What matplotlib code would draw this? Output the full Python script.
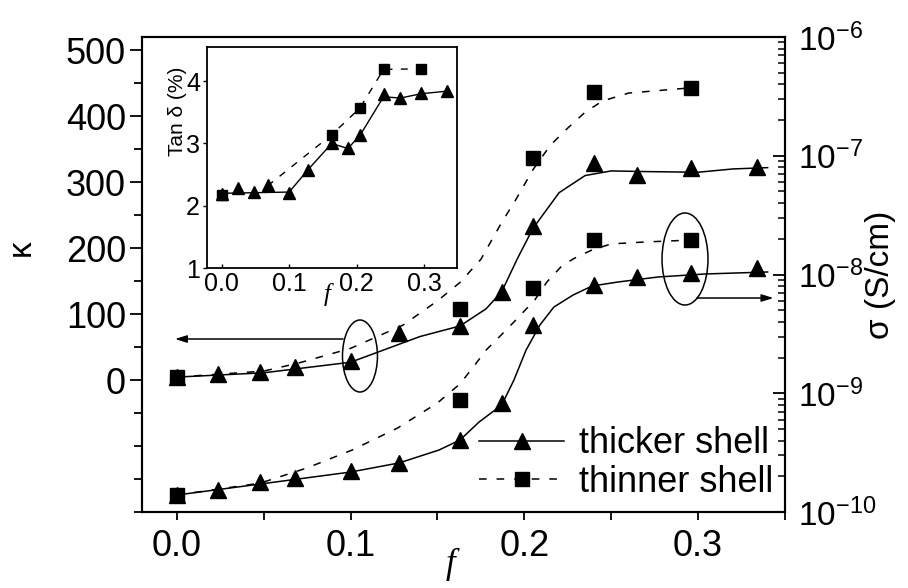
import matplotlib
matplotlib.use('Agg')
import matplotlib.pyplot as plt
from matplotlib.lines import Line2D
from matplotlib.patches import Ellipse
from matplotlib.ticker import FixedLocator, MultipleLocator, LogLocator, NullFormatter, LogFormatterMathtext

plt.rcParams['font.family'] = ['Liberation Sans', 'DejaVu Sans']
plt.rcParams['mathtext.fontset'] = 'custom'
plt.rcParams['mathtext.rm'] = 'Liberation Sans'
plt.rcParams['mathtext.it'] = 'Liberation Serif:italic'

# ---------------- data ----------------
f_thick = [0.0, 0.024, 0.048, 0.068, 0.100, 0.128, 0.163, 0.187, 0.205, 0.240, 0.265, 0.296, 0.334]
kappa_thick = [4.5, 9, 12, 20, 29, 72, 82, 134, 233, 329, 311, 322, 323]
sigma_thick = [1.39e-10, 1.53e-10, 1.79e-10, 1.93e-10, 2.21e-10, 2.59e-10, 4.04e-10,
               8.27e-10, 3.76e-9, 8.16e-9, 9.53e-9, 1.03e-8, 1.13e-8]
tan_thick = [2.19, 2.29, 2.22, 2.33, 2.20, 2.58, 3.00, 2.92, 3.13, 3.79, 3.73, 3.81, 3.85]

f_thin = [0.0, 0.163, 0.205, 0.240, 0.296]
kappa_thin = [4, 107, 337, 437, 443]
sigma_thin = [1.39e-10, 8.77e-10, 7.69e-9, 1.95e-8, 1.95e-8]
tan_thin = [2.18, 3.14, 3.57, 4.19, 4.20]

# fitted curves
fit_kt_f = [0.0, 0.05, 0.10, 0.14, 0.163, 0.178, 0.187, 0.196, 0.205, 0.22, 0.235, 0.25, 0.27, 0.30, 0.32, 0.34]
fit_kt_v = [4.5, 11, 27, 66, 82, 108, 134, 184, 230, 284, 310, 317, 316, 315, 320, 322]

fit_kn_f = [0.0, 0.05, 0.07, 0.10, 0.13, 0.15, 0.163, 0.175, 0.187, 0.195, 0.205, 0.215, 0.225, 0.235, 0.245, 0.26, 0.296]
fit_kn_v = [4.5, 13.6, 25.7, 48, 83, 120, 148, 183, 239, 273, 319, 356, 382, 406, 423, 435, 443]

fit_st_f = [0.0, 0.048, 0.10, 0.128, 0.151, 0.163, 0.174, 0.187, 0.194, 0.201, 0.209, 0.217, 0.228,
            0.239, 0.254, 0.277, 0.304, 0.34]
fit_st_v = [1.39e-10, 1.72e-10, 2.17e-10, 2.59e-10, 3.33e-10, 4.04e-10, 5.73e-10, 7.96e-10, 1.29e-9,
            2.31e-9, 3.76e-9, 5.32e-9, 6.71e-9, 8.0e-9, 8.65e-9, 9.53e-9, 1.01e-8, 1.05e-8]

fit_sn_f = [0.0, 0.048, 0.075, 0.101, 0.127, 0.150, 0.163, 0.171, 0.178, 0.185, 0.194, 0.206, 0.213,
            0.222, 0.230, 0.239, 0.250, 0.270, 0.296]
fit_sn_v = [1.39e-10, 1.75e-10, 2.35e-10, 3.33e-10, 5.09e-10, 8.28e-10, 1.20e-9, 1.69e-9, 2.31e-9,
            2.92e-9, 3.98e-9, 6.10e-9, 8.65e-9, 1.20e-8, 1.40e-8, 1.61e-8, 1.81e-8, 1.88e-8, 1.95e-8]

inset_line_f = [0.0, 0.100, 0.128, 0.163, 0.187, 0.205, 0.240, 0.265, 0.296, 0.334]
inset_line_v = [2.20, 2.22, 2.58, 3.00, 2.92, 3.13, 3.75, 3.73, 3.80, 3.84]
inset_dash_f = [0.068, 0.163, 0.205, 0.240, 0.296]
inset_dash_v = [2.32, 3.14, 3.57, 4.19, 4.20]

x_ticks = [0.0, 0.1, 0.2, 0.3]
kappa_ticks = [0, 100, 200, 300, 400, 500]
sigma_ticks = [1e-10, 1e-9, 1e-8, 1e-7, 1e-6]
inset_yticks = [1, 2, 3, 4]
legend_labels = ['thicker shell', 'thinner shell']

# ---------------- figure ----------------
W, H = 908, 588
fig = plt.figure(figsize=(W / 100, H / 100), dpi=100)
ax = fig.add_axes([142 / W, 1 - 512 / H, 643 / W, 475 / H])
ax2 = ax.twinx()

LW = 1.1
DASH = (0, (5, 6.5))
TRI_MS = 11.5
SQ_MS = 10

# kappa (left axis)
ax.plot(fit_kt_f, fit_kt_v, color='k', lw=LW, ls='-')
ax.plot(fit_kn_f, fit_kn_v, color='k', lw=LW, ls=DASH)
ax.plot(f_thin, kappa_thin, ls='none', marker='s', ms=SQ_MS, color='k')
ax.plot(f_thick, kappa_thick, ls='none', marker='^', ms=TRI_MS, color='k')

# sigma (right axis)
ax2.set_yscale('log')
ax2.plot(fit_st_f, fit_st_v, color='k', lw=LW, ls='-')
ax2.plot(fit_sn_f, fit_sn_v, color='k', lw=LW, ls=DASH)
ax2.plot(f_thin, sigma_thin, ls='none', marker='s', ms=SQ_MS, color='k')
ax2.plot(f_thick, sigma_thick, ls='none', marker='^', ms=TRI_MS, color='k')

ax.set_xlim(-0.02, 0.35)
ax.set_ylim(-200, 520)
ax2.set_ylim(1e-10, 1e-6)

for a in (ax, ax2):
    for s in a.spines.values():
        s.set_linewidth(1.5)

ax.xaxis.set_major_locator(FixedLocator(x_ticks))
ax.xaxis.set_minor_locator(MultipleLocator(0.05))
ax.set_xticklabels([f'{v:.1f}' for v in x_ticks])
ax.yaxis.set_major_locator(FixedLocator(kappa_ticks))
ax.yaxis.set_minor_locator(MultipleLocator(50))
ax.tick_params(axis='x', which='both', direction='out', length=6, width=1.3, labelsize=26, pad=6, top=False)
ax.tick_params(axis='y', which='major', direction='out', length=8.5, width=1.3, labelsize=26, pad=3, right=False)
ax.tick_params(axis='y', which='minor', direction='out', length=5.5, width=1.3, right=False)

ax2.yaxis.set_major_locator(FixedLocator(sigma_ticks))
ax2.yaxis.set_major_formatter(LogFormatterMathtext())
ax2.yaxis.set_minor_locator(LogLocator(base=10, subs=range(2, 10), numticks=20))
ax2.yaxis.set_minor_formatter(NullFormatter())
ax2.tick_params(axis='y', which='major', direction='in', length=8.5, width=1.3, labelsize=24, pad=9)
ax2.tick_params(axis='y', which='minor', direction='in', length=5, width=1.1)

ax.set_xlabel('f', fontsize=25, family='Liberation Serif', style='italic')
ax.xaxis.set_label_coords(0.479, -0.076)
ax.set_ylabel('\u03ba', fontsize=24, rotation=90)
ax.yaxis.set_label_coords(-0.163, 0.556)
ax2.set_ylabel('\u03c3 (S/cm)', fontsize=24, rotation=90)
ax2.yaxis.set_label_coords(1.124, 0.499)

# ellipses and arrows
ax2.add_patch(Ellipse((0.339, 0.3284), 0.0544, 0.1516, transform=ax2.transAxes,
                      fill=False, lw=LW, ec='k'))
ax2.add_patch(Ellipse((0.8445, 0.5326), 0.0715, 0.1937, transform=ax2.transAxes,
                      fill=False, lw=LW, ec='k'))
arrow = dict(arrowstyle='-|>,head_length=0.7,head_width=0.22', lw=LW, color='k',
             shrinkA=0, shrinkB=0)
ax2.annotate('', xy=(0.0513, 0.3642), xytext=(0.3126, 0.3642),
             xycoords='axes fraction', textcoords='axes fraction', arrowprops=arrow)
ax2.annotate('', xy=(0.982, 0.4505), xytext=(0.863, 0.4505),
             xycoords='axes fraction', textcoords='axes fraction', arrowprops=arrow)

# legend
handles = [Line2D([], [], color='k', lw=LW, ls='-', marker='^', ms=TRI_MS),
           Line2D([], [], color='k', lw=LW, ls=DASH, marker='s', ms=SQ_MS)]
ax2.legend(handles, legend_labels, loc='lower right', bbox_to_anchor=(773 / W, 1 - 500 / H),
           bbox_transform=fig.transFigure, frameon=False, fontsize=26, handlelength=2.35,
           handletextpad=0.4, labelspacing=0.1, borderpad=0, borderaxespad=0, numpoints=1)

# ---------------- inset ----------------
ins = fig.add_axes([207 / W, 1 - 268 / H, 250 / W, 221 / H])
ins.set_facecolor('white')
ins.plot(inset_line_f, inset_line_v, color='k', lw=1.0, ls='-')
ins.plot(inset_dash_f, inset_dash_v, color='k', lw=1.0, ls=(0, (5, 6)))
ins.plot(f_thin, tan_thin, ls='none', marker='s', ms=7.5, color='k')
ins.plot(f_thick, tan_thick, ls='none', marker='^', ms=9, color='k')
ins.set_xlim(-0.022, 0.349)
ins.set_ylim(1, 4.55)
ins.xaxis.set_major_locator(FixedLocator(x_ticks))
ins.set_xticklabels([f'{v:.1f}' for v in x_ticks])
ins.yaxis.set_major_locator(FixedLocator(inset_yticks))
ins.tick_params(axis='x', direction='in', length=3, width=1.0, labelsize=18, pad=3)
ins.tick_params(axis='y', direction='out', length=3, width=1.0, labelsize=18, pad=2)
for s in ins.spines.values():
    s.set_linewidth(1.3)
ins.set_ylabel('Tan \u03b4 (%)', fontsize=15)
ins.yaxis.set_label_coords(-0.08, 0.71)
ins.set_xlabel('f', fontsize=18, family='Liberation Serif', style='italic')
ins.xaxis.set_label_coords(0.48, -0.07)

fig.savefig('out.png', dpi=100)
